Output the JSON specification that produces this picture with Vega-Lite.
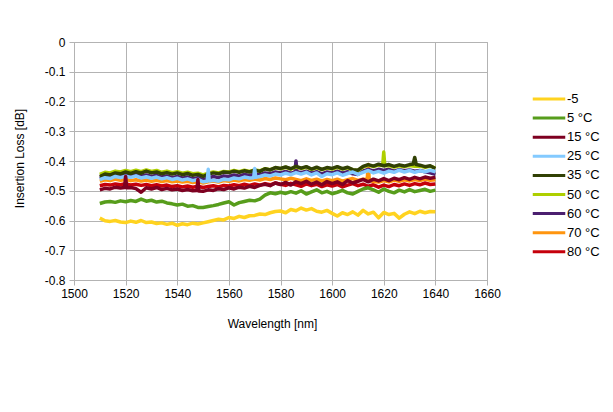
{
"$schema": "https://vega.github.io/schema/vega-lite/v6.json",
"width": 413, "height": 238,
"autosize": {"type": "none"},
"padding": {"left": 74, "top": 42, "right": 126, "bottom": 132},
"background": "white",
"config": {"font": "Liberation Sans", "view": {"stroke": "#b3b3b3"}},
"data": {"values": [
{"w":1510,"t":"80 °C","v":-0.483},{"w":1512,"t":"80 °C","v":-0.479},{"w":1514,"t":"80 °C","v":-0.481},{"w":1516,"t":"80 °C","v":-0.477},{"w":1518,"t":"80 °C","v":-0.480},{"w":1520,"t":"80 °C","v":-0.476},{"w":1522,"t":"80 °C","v":-0.481},{"w":1524,"t":"80 °C","v":-0.478},{"w":1526,"t":"80 °C","v":-0.482},{"w":1528,"t":"80 °C","v":-0.479},{"w":1530,"t":"80 °C","v":-0.483},{"w":1532,"t":"80 °C","v":-0.480},{"w":1534,"t":"80 °C","v":-0.484},{"w":1536,"t":"80 °C","v":-0.481},{"w":1538,"t":"80 °C","v":-0.486},{"w":1540,"t":"80 °C","v":-0.483},{"w":1542,"t":"80 °C","v":-0.487},{"w":1544,"t":"80 °C","v":-0.484},{"w":1546,"t":"80 °C","v":-0.488},{"w":1548,"t":"80 °C","v":-0.485},{"w":1550,"t":"80 °C","v":-0.489},{"w":1552,"t":"80 °C","v":-0.486},{"w":1554,"t":"80 °C","v":-0.483},{"w":1556,"t":"80 °C","v":-0.487},{"w":1558,"t":"80 °C","v":-0.482},{"w":1560,"t":"80 °C","v":-0.484},{"w":1562,"t":"80 °C","v":-0.480},{"w":1564,"t":"80 °C","v":-0.483},{"w":1566,"t":"80 °C","v":-0.478},{"w":1568,"t":"80 °C","v":-0.482},{"w":1570,"t":"80 °C","v":-0.477},{"w":1572,"t":"80 °C","v":-0.481},{"w":1574,"t":"80 °C","v":-0.476},{"w":1576,"t":"80 °C","v":-0.480},{"w":1578,"t":"80 °C","v":-0.474},{"w":1580,"t":"80 °C","v":-0.478},{"w":1582,"t":"80 °C","v":-0.482},{"w":1584,"t":"80 °C","v":-0.475},{"w":1586,"t":"80 °C","v":-0.480},{"w":1588,"t":"80 °C","v":-0.485},{"w":1590,"t":"80 °C","v":-0.477},{"w":1592,"t":"80 °C","v":-0.483},{"w":1594,"t":"80 °C","v":-0.478},{"w":1596,"t":"80 °C","v":-0.486},{"w":1598,"t":"80 °C","v":-0.480},{"w":1600,"t":"80 °C","v":-0.484},{"w":1602,"t":"80 °C","v":-0.479},{"w":1604,"t":"80 °C","v":-0.487},{"w":1606,"t":"80 °C","v":-0.481},{"w":1608,"t":"80 °C","v":-0.476},{"w":1610,"t":"80 °C","v":-0.483},{"w":1612,"t":"80 °C","v":-0.478},{"w":1614,"t":"80 °C","v":-0.485},{"w":1616,"t":"80 °C","v":-0.480},{"w":1618,"t":"80 °C","v":-0.488},{"w":1620,"t":"80 °C","v":-0.481},{"w":1622,"t":"80 °C","v":-0.486},{"w":1624,"t":"80 °C","v":-0.479},{"w":1626,"t":"80 °C","v":-0.483},{"w":1628,"t":"80 °C","v":-0.477},{"w":1630,"t":"80 °C","v":-0.482},{"w":1632,"t":"80 °C","v":-0.476},{"w":1634,"t":"80 °C","v":-0.480},{"w":1636,"t":"80 °C","v":-0.474},{"w":1638,"t":"80 °C","v":-0.479},{"w":1640,"t":"80 °C","v":-0.477},
{"w":1510,"t":"70 °C","v":-0.468},{"w":1512,"t":"70 °C","v":-0.463},{"w":1514,"t":"70 °C","v":-0.466},{"w":1516,"t":"70 °C","v":-0.461},{"w":1518,"t":"70 °C","v":-0.465},{"w":1520,"t":"70 °C","v":-0.462},{"w":1522,"t":"70 °C","v":-0.466},{"w":1524,"t":"70 °C","v":-0.463},{"w":1526,"t":"70 °C","v":-0.467},{"w":1528,"t":"70 °C","v":-0.464},{"w":1530,"t":"70 °C","v":-0.468},{"w":1532,"t":"70 °C","v":-0.465},{"w":1534,"t":"70 °C","v":-0.469},{"w":1536,"t":"70 °C","v":-0.466},{"w":1538,"t":"70 °C","v":-0.470},{"w":1540,"t":"70 °C","v":-0.467},{"w":1542,"t":"70 °C","v":-0.471},{"w":1544,"t":"70 °C","v":-0.468},{"w":1546,"t":"70 °C","v":-0.472},{"w":1548,"t":"70 °C","v":-0.469},{"w":1550,"t":"70 °C","v":-0.474},{"w":1552,"t":"70 °C","v":-0.470},{"w":1554,"t":"70 °C","v":-0.467},{"w":1556,"t":"70 °C","v":-0.471},{"w":1558,"t":"70 °C","v":-0.466},{"w":1560,"t":"70 °C","v":-0.468},{"w":1562,"t":"70 °C","v":-0.464},{"w":1564,"t":"70 °C","v":-0.467},{"w":1566,"t":"70 °C","v":-0.462},{"w":1568,"t":"70 °C","v":-0.465},{"w":1570,"t":"70 °C","v":-0.461},{"w":1572,"t":"70 °C","v":-0.464},{"w":1574,"t":"70 °C","v":-0.459},{"w":1576,"t":"70 °C","v":-0.462},{"w":1578,"t":"70 °C","v":-0.457},{"w":1580,"t":"70 °C","v":-0.460},{"w":1582,"t":"70 °C","v":-0.463},{"w":1584,"t":"70 °C","v":-0.458},{"w":1586,"t":"70 °C","v":-0.462},{"w":1588,"t":"70 °C","v":-0.466},{"w":1590,"t":"70 °C","v":-0.460},{"w":1592,"t":"70 °C","v":-0.465},{"w":1594,"t":"70 °C","v":-0.461},{"w":1596,"t":"70 °C","v":-0.467},{"w":1598,"t":"70 °C","v":-0.462},{"w":1600,"t":"70 °C","v":-0.466},{"w":1602,"t":"70 °C","v":-0.461},{"w":1604,"t":"70 °C","v":-0.468},{"w":1606,"t":"70 °C","v":-0.463},{"w":1608,"t":"70 °C","v":-0.459},{"w":1610,"t":"70 °C","v":-0.465},{"w":1612,"t":"70 °C","v":-0.461},{"w":1613.6,"t":"70 °C","v":-0.462},{"w":1614,"t":"70 °C","v":-0.412},{"w":1614.4,"t":"70 °C","v":-0.466},{"w":1616,"t":"70 °C","v":-0.469},{"w":1618,"t":"70 °C","v":-0.471},{"w":1620,"t":"70 °C","v":-0.466},{"w":1622,"t":"70 °C","v":-0.470},{"w":1624,"t":"70 °C","v":-0.464},{"w":1626,"t":"70 °C","v":-0.468},{"w":1628,"t":"70 °C","v":-0.463},{"w":1630,"t":"70 °C","v":-0.467},{"w":1632,"t":"70 °C","v":-0.462},{"w":1634,"t":"70 °C","v":-0.466},{"w":1636,"t":"70 °C","v":-0.461},{"w":1638,"t":"70 °C","v":-0.465},{"w":1640,"t":"70 °C","v":-0.463},
{"w":1510,"t":"60 °C","v":-0.458},{"w":1512,"t":"60 °C","v":-0.451},{"w":1514,"t":"60 °C","v":-0.454},{"w":1516,"t":"60 °C","v":-0.448},{"w":1518,"t":"60 °C","v":-0.451},{"w":1520,"t":"60 °C","v":-0.446},{"w":1522,"t":"60 °C","v":-0.450},{"w":1524,"t":"60 °C","v":-0.445},{"w":1526,"t":"60 °C","v":-0.451},{"w":1528,"t":"60 °C","v":-0.447},{"w":1530,"t":"60 °C","v":-0.452},{"w":1532,"t":"60 °C","v":-0.448},{"w":1534,"t":"60 °C","v":-0.454},{"w":1536,"t":"60 °C","v":-0.450},{"w":1538,"t":"60 °C","v":-0.456},{"w":1540,"t":"60 °C","v":-0.452},{"w":1542,"t":"60 °C","v":-0.458},{"w":1544,"t":"60 °C","v":-0.454},{"w":1546,"t":"60 °C","v":-0.460},{"w":1548,"t":"60 °C","v":-0.456},{"w":1550,"t":"60 °C","v":-0.463},{"w":1552,"t":"60 °C","v":-0.457},{"w":1554,"t":"60 °C","v":-0.452},{"w":1556,"t":"60 °C","v":-0.456},{"w":1558,"t":"60 °C","v":-0.450},{"w":1560,"t":"60 °C","v":-0.452},{"w":1562,"t":"60 °C","v":-0.447},{"w":1564,"t":"60 °C","v":-0.451},{"w":1566,"t":"60 °C","v":-0.445},{"w":1568,"t":"60 °C","v":-0.449},{"w":1570,"t":"60 °C","v":-0.443},{"w":1572,"t":"60 °C","v":-0.447},{"w":1574,"t":"60 °C","v":-0.440},{"w":1576,"t":"60 °C","v":-0.443},{"w":1578,"t":"60 °C","v":-0.437},{"w":1580,"t":"60 °C","v":-0.440},{"w":1582,"t":"60 °C","v":-0.435},{"w":1584,"t":"60 °C","v":-0.441},{"w":1585.6,"t":"60 °C","v":-0.438},{"w":1586,"t":"60 °C","v":-0.400},{"w":1586.4,"t":"60 °C","v":-0.437},{"w":1588,"t":"60 °C","v":-0.439},{"w":1590,"t":"60 °C","v":-0.434},{"w":1592,"t":"60 °C","v":-0.441},{"w":1594,"t":"60 °C","v":-0.436},{"w":1596,"t":"60 °C","v":-0.443},{"w":1598,"t":"60 °C","v":-0.437},{"w":1600,"t":"60 °C","v":-0.440},{"w":1602,"t":"60 °C","v":-0.434},{"w":1604,"t":"60 °C","v":-0.441},{"w":1606,"t":"60 °C","v":-0.436},{"w":1608,"t":"60 °C","v":-0.443},{"w":1610,"t":"60 °C","v":-0.445},{"w":1612,"t":"60 °C","v":-0.433},{"w":1614,"t":"60 °C","v":-0.428},{"w":1616,"t":"60 °C","v":-0.433},{"w":1618,"t":"60 °C","v":-0.428},{"w":1620,"t":"60 °C","v":-0.432},{"w":1622,"t":"60 °C","v":-0.428},{"w":1624,"t":"60 °C","v":-0.434},{"w":1626,"t":"60 °C","v":-0.429},{"w":1628,"t":"60 °C","v":-0.433},{"w":1630,"t":"60 °C","v":-0.430},{"w":1632,"t":"60 °C","v":-0.434},{"w":1634,"t":"60 °C","v":-0.432},{"w":1636,"t":"60 °C","v":-0.436},{"w":1638,"t":"60 °C","v":-0.440},{"w":1640,"t":"60 °C","v":-0.445},
{"w":1510,"t":"50 °C","v":-0.445},{"w":1512,"t":"50 °C","v":-0.438},{"w":1514,"t":"50 °C","v":-0.440},{"w":1516,"t":"50 °C","v":-0.434},{"w":1518,"t":"50 °C","v":-0.437},{"w":1520,"t":"50 °C","v":-0.432},{"w":1522,"t":"50 °C","v":-0.436},{"w":1524,"t":"50 °C","v":-0.431},{"w":1526,"t":"50 °C","v":-0.436},{"w":1528,"t":"50 °C","v":-0.430},{"w":1530,"t":"50 °C","v":-0.435},{"w":1532,"t":"50 °C","v":-0.432},{"w":1534,"t":"50 °C","v":-0.438},{"w":1536,"t":"50 °C","v":-0.434},{"w":1538,"t":"50 °C","v":-0.439},{"w":1540,"t":"50 °C","v":-0.436},{"w":1542,"t":"50 °C","v":-0.441},{"w":1544,"t":"50 °C","v":-0.438},{"w":1546,"t":"50 °C","v":-0.443},{"w":1548,"t":"50 °C","v":-0.441},{"w":1550,"t":"50 °C","v":-0.447},{"w":1552,"t":"50 °C","v":-0.441},{"w":1554,"t":"50 °C","v":-0.437},{"w":1556,"t":"50 °C","v":-0.440},{"w":1558,"t":"50 °C","v":-0.435},{"w":1560,"t":"50 °C","v":-0.437},{"w":1562,"t":"50 °C","v":-0.432},{"w":1564,"t":"50 °C","v":-0.436},{"w":1566,"t":"50 °C","v":-0.431},{"w":1568,"t":"50 °C","v":-0.435},{"w":1570,"t":"50 °C","v":-0.430},{"w":1572,"t":"50 °C","v":-0.433},{"w":1574,"t":"50 °C","v":-0.426},{"w":1576,"t":"50 °C","v":-0.429},{"w":1578,"t":"50 °C","v":-0.423},{"w":1580,"t":"50 °C","v":-0.426},{"w":1582,"t":"50 °C","v":-0.421},{"w":1584,"t":"50 °C","v":-0.427},{"w":1586,"t":"50 °C","v":-0.420},{"w":1588,"t":"50 °C","v":-0.425},{"w":1590,"t":"50 °C","v":-0.421},{"w":1592,"t":"50 °C","v":-0.428},{"w":1594,"t":"50 °C","v":-0.423},{"w":1596,"t":"50 °C","v":-0.429},{"w":1598,"t":"50 °C","v":-0.424},{"w":1600,"t":"50 °C","v":-0.427},{"w":1602,"t":"50 °C","v":-0.421},{"w":1604,"t":"50 °C","v":-0.427},{"w":1606,"t":"50 °C","v":-0.423},{"w":1608,"t":"50 °C","v":-0.430},{"w":1610,"t":"50 °C","v":-0.432},{"w":1612,"t":"50 °C","v":-0.420},{"w":1614,"t":"50 °C","v":-0.414},{"w":1616,"t":"50 °C","v":-0.419},{"w":1618,"t":"50 °C","v":-0.414},{"w":1619.6,"t":"50 °C","v":-0.415},{"w":1620,"t":"50 °C","v":-0.370},{"w":1620.4,"t":"50 °C","v":-0.416},{"w":1622,"t":"50 °C","v":-0.415},{"w":1624,"t":"50 °C","v":-0.420},{"w":1626,"t":"50 °C","v":-0.416},{"w":1628,"t":"50 °C","v":-0.419},{"w":1630,"t":"50 °C","v":-0.415},{"w":1632,"t":"50 °C","v":-0.418},{"w":1634,"t":"50 °C","v":-0.417},{"w":1636,"t":"50 °C","v":-0.421},{"w":1638,"t":"50 °C","v":-0.418},{"w":1640,"t":"50 °C","v":-0.423},
{"w":1510,"t":"35 °C","v":-0.452},{"w":1512,"t":"35 °C","v":-0.444},{"w":1514,"t":"35 °C","v":-0.447},{"w":1516,"t":"35 °C","v":-0.440},{"w":1518,"t":"35 °C","v":-0.443},{"w":1520,"t":"35 °C","v":-0.437},{"w":1522,"t":"35 °C","v":-0.442},{"w":1524,"t":"35 °C","v":-0.436},{"w":1526,"t":"35 °C","v":-0.441},{"w":1528,"t":"35 °C","v":-0.434},{"w":1530,"t":"35 °C","v":-0.440},{"w":1532,"t":"35 °C","v":-0.437},{"w":1534,"t":"35 °C","v":-0.443},{"w":1536,"t":"35 °C","v":-0.439},{"w":1538,"t":"35 °C","v":-0.444},{"w":1540,"t":"35 °C","v":-0.440},{"w":1542,"t":"35 °C","v":-0.446},{"w":1544,"t":"35 °C","v":-0.442},{"w":1546,"t":"35 °C","v":-0.448},{"w":1548,"t":"35 °C","v":-0.445},{"w":1550,"t":"35 °C","v":-0.452},{"w":1552,"t":"35 °C","v":-0.444},{"w":1554,"t":"35 °C","v":-0.440},{"w":1556,"t":"35 °C","v":-0.443},{"w":1558,"t":"35 °C","v":-0.437},{"w":1560,"t":"35 °C","v":-0.439},{"w":1562,"t":"35 °C","v":-0.434},{"w":1564,"t":"35 °C","v":-0.438},{"w":1566,"t":"35 °C","v":-0.433},{"w":1568,"t":"35 °C","v":-0.437},{"w":1570,"t":"35 °C","v":-0.431},{"w":1572,"t":"35 °C","v":-0.435},{"w":1574,"t":"35 °C","v":-0.426},{"w":1576,"t":"35 °C","v":-0.430},{"w":1578,"t":"35 °C","v":-0.422},{"w":1580,"t":"35 °C","v":-0.425},{"w":1582,"t":"35 °C","v":-0.420},{"w":1584,"t":"35 °C","v":-0.426},{"w":1586,"t":"35 °C","v":-0.418},{"w":1588,"t":"35 °C","v":-0.424},{"w":1590,"t":"35 °C","v":-0.419},{"w":1592,"t":"35 °C","v":-0.427},{"w":1594,"t":"35 °C","v":-0.421},{"w":1596,"t":"35 °C","v":-0.428},{"w":1598,"t":"35 °C","v":-0.422},{"w":1600,"t":"35 °C","v":-0.425},{"w":1602,"t":"35 °C","v":-0.419},{"w":1604,"t":"35 °C","v":-0.426},{"w":1606,"t":"35 °C","v":-0.421},{"w":1608,"t":"35 °C","v":-0.429},{"w":1610,"t":"35 °C","v":-0.431},{"w":1612,"t":"35 °C","v":-0.418},{"w":1614,"t":"35 °C","v":-0.412},{"w":1616,"t":"35 °C","v":-0.417},{"w":1618,"t":"35 °C","v":-0.411},{"w":1620,"t":"35 °C","v":-0.416},{"w":1622,"t":"35 °C","v":-0.412},{"w":1624,"t":"35 °C","v":-0.418},{"w":1626,"t":"35 °C","v":-0.413},{"w":1628,"t":"35 °C","v":-0.417},{"w":1630,"t":"35 °C","v":-0.412},{"w":1631.4,"t":"35 °C","v":-0.410},{"w":1632,"t":"35 °C","v":-0.388},{"w":1632.6,"t":"35 °C","v":-0.412},{"w":1634,"t":"35 °C","v":-0.414},{"w":1636,"t":"35 °C","v":-0.419},{"w":1638,"t":"35 °C","v":-0.416},{"w":1640,"t":"35 °C","v":-0.425},
{"w":1510,"t":"25 °C","v":-0.463},{"w":1512,"t":"25 °C","v":-0.456},{"w":1514,"t":"25 °C","v":-0.459},{"w":1516,"t":"25 °C","v":-0.452},{"w":1518,"t":"25 °C","v":-0.456},{"w":1520,"t":"25 °C","v":-0.451},{"w":1522,"t":"25 °C","v":-0.455},{"w":1524,"t":"25 °C","v":-0.450},{"w":1526,"t":"25 °C","v":-0.457},{"w":1528,"t":"25 °C","v":-0.453},{"w":1530,"t":"25 °C","v":-0.458},{"w":1532,"t":"25 °C","v":-0.454},{"w":1534,"t":"25 °C","v":-0.460},{"w":1536,"t":"25 °C","v":-0.456},{"w":1538,"t":"25 °C","v":-0.462},{"w":1540,"t":"25 °C","v":-0.458},{"w":1542,"t":"25 °C","v":-0.464},{"w":1544,"t":"25 °C","v":-0.460},{"w":1546,"t":"25 °C","v":-0.466},{"w":1548,"t":"25 °C","v":-0.462},{"w":1550,"t":"25 °C","v":-0.470},{"w":1551.6,"t":"25 °C","v":-0.468},{"w":1552,"t":"25 °C","v":-0.428},{"w":1552.4,"t":"25 °C","v":-0.467},{"w":1554,"t":"25 °C","v":-0.465},{"w":1556,"t":"25 °C","v":-0.468},{"w":1558,"t":"25 °C","v":-0.461},{"w":1560,"t":"25 °C","v":-0.463},{"w":1562,"t":"25 °C","v":-0.457},{"w":1564,"t":"25 °C","v":-0.460},{"w":1566,"t":"25 °C","v":-0.454},{"w":1568,"t":"25 °C","v":-0.457},{"w":1569.6,"t":"25 °C","v":-0.456},{"w":1570,"t":"25 °C","v":-0.425},{"w":1570.4,"t":"25 °C","v":-0.455},{"w":1572,"t":"25 °C","v":-0.452},{"w":1574,"t":"25 °C","v":-0.447},{"w":1576,"t":"25 °C","v":-0.450},{"w":1578,"t":"25 °C","v":-0.444},{"w":1580,"t":"25 °C","v":-0.447},{"w":1582,"t":"25 °C","v":-0.441},{"w":1584,"t":"25 °C","v":-0.446},{"w":1586,"t":"25 °C","v":-0.439},{"w":1588,"t":"25 °C","v":-0.444},{"w":1590,"t":"25 °C","v":-0.438},{"w":1592,"t":"25 °C","v":-0.447},{"w":1594,"t":"25 °C","v":-0.440},{"w":1596,"t":"25 °C","v":-0.452},{"w":1598,"t":"25 °C","v":-0.443},{"w":1600,"t":"25 °C","v":-0.446},{"w":1602,"t":"25 °C","v":-0.440},{"w":1604,"t":"25 °C","v":-0.448},{"w":1606,"t":"25 °C","v":-0.442},{"w":1608,"t":"25 °C","v":-0.437},{"w":1610,"t":"25 °C","v":-0.445},{"w":1612,"t":"25 °C","v":-0.438},{"w":1614,"t":"25 °C","v":-0.432},{"w":1616,"t":"25 °C","v":-0.440},{"w":1618,"t":"25 °C","v":-0.435},{"w":1620,"t":"25 °C","v":-0.441},{"w":1622,"t":"25 °C","v":-0.434},{"w":1624,"t":"25 °C","v":-0.438},{"w":1626,"t":"25 °C","v":-0.431},{"w":1628,"t":"25 °C","v":-0.437},{"w":1630,"t":"25 °C","v":-0.432},{"w":1632,"t":"25 °C","v":-0.438},{"w":1634,"t":"25 °C","v":-0.433},{"w":1636,"t":"25 °C","v":-0.436},{"w":1638,"t":"25 °C","v":-0.431},{"w":1640,"t":"25 °C","v":-0.436},
{"w":1510,"t":"15 °C","v":-0.497},{"w":1512,"t":"15 °C","v":-0.492},{"w":1514,"t":"15 °C","v":-0.494},{"w":1516,"t":"15 °C","v":-0.488},{"w":1518,"t":"15 °C","v":-0.491},{"w":1519.6,"t":"15 °C","v":-0.489},{"w":1520,"t":"15 °C","v":-0.452},{"w":1520.4,"t":"15 °C","v":-0.490},{"w":1522,"t":"15 °C","v":-0.489},{"w":1524,"t":"15 °C","v":-0.493},{"w":1526,"t":"15 °C","v":-0.505},{"w":1528,"t":"15 °C","v":-0.490},{"w":1530,"t":"15 °C","v":-0.494},{"w":1532,"t":"15 °C","v":-0.489},{"w":1534,"t":"15 °C","v":-0.496},{"w":1536,"t":"15 °C","v":-0.492},{"w":1538,"t":"15 °C","v":-0.497},{"w":1540,"t":"15 °C","v":-0.494},{"w":1542,"t":"15 °C","v":-0.499},{"w":1544,"t":"15 °C","v":-0.496},{"w":1546,"t":"15 °C","v":-0.500},{"w":1547.6,"t":"15 °C","v":-0.499},{"w":1548,"t":"15 °C","v":-0.462},{"w":1548.4,"t":"15 °C","v":-0.501},{"w":1550,"t":"15 °C","v":-0.502},{"w":1552,"t":"15 °C","v":-0.497},{"w":1554,"t":"15 °C","v":-0.499},{"w":1556,"t":"15 °C","v":-0.493},{"w":1558,"t":"15 °C","v":-0.496},{"w":1560,"t":"15 °C","v":-0.490},{"w":1562,"t":"15 °C","v":-0.494},{"w":1564,"t":"15 °C","v":-0.488},{"w":1566,"t":"15 °C","v":-0.491},{"w":1568,"t":"15 °C","v":-0.485},{"w":1570,"t":"15 °C","v":-0.489},{"w":1572,"t":"15 °C","v":-0.482},{"w":1574,"t":"15 °C","v":-0.478},{"w":1576,"t":"15 °C","v":-0.483},{"w":1578,"t":"15 °C","v":-0.474},{"w":1580,"t":"15 °C","v":-0.479},{"w":1582,"t":"15 °C","v":-0.472},{"w":1584,"t":"15 °C","v":-0.481},{"w":1586,"t":"15 °C","v":-0.470},{"w":1588,"t":"15 °C","v":-0.476},{"w":1590,"t":"15 °C","v":-0.468},{"w":1592,"t":"15 °C","v":-0.478},{"w":1594,"t":"15 °C","v":-0.471},{"w":1596,"t":"15 °C","v":-0.480},{"w":1598,"t":"15 °C","v":-0.469},{"w":1600,"t":"15 °C","v":-0.476},{"w":1602,"t":"15 °C","v":-0.470},{"w":1604,"t":"15 °C","v":-0.479},{"w":1606,"t":"15 °C","v":-0.466},{"w":1608,"t":"15 °C","v":-0.474},{"w":1610,"t":"15 °C","v":-0.468},{"w":1612,"t":"15 °C","v":-0.462},{"w":1614,"t":"15 °C","v":-0.470},{"w":1616,"t":"15 °C","v":-0.461},{"w":1618,"t":"15 °C","v":-0.467},{"w":1620,"t":"15 °C","v":-0.459},{"w":1622,"t":"15 °C","v":-0.466},{"w":1624,"t":"15 °C","v":-0.458},{"w":1626,"t":"15 °C","v":-0.463},{"w":1628,"t":"15 °C","v":-0.456},{"w":1630,"t":"15 °C","v":-0.462},{"w":1632,"t":"15 °C","v":-0.455},{"w":1634,"t":"15 °C","v":-0.460},{"w":1636,"t":"15 °C","v":-0.454},{"w":1638,"t":"15 °C","v":-0.458},{"w":1640,"t":"15 °C","v":-0.455},
{"w":1510,"t":"5 °C","v":-0.543},{"w":1512,"t":"5 °C","v":-0.538},{"w":1514,"t":"5 °C","v":-0.536},{"w":1516,"t":"5 °C","v":-0.539},{"w":1518,"t":"5 °C","v":-0.534},{"w":1520,"t":"5 °C","v":-0.537},{"w":1522,"t":"5 °C","v":-0.533},{"w":1524,"t":"5 °C","v":-0.536},{"w":1526,"t":"5 °C","v":-0.528},{"w":1528,"t":"5 °C","v":-0.535},{"w":1530,"t":"5 °C","v":-0.532},{"w":1532,"t":"5 °C","v":-0.538},{"w":1534,"t":"5 °C","v":-0.535},{"w":1536,"t":"5 °C","v":-0.541},{"w":1538,"t":"5 °C","v":-0.544},{"w":1540,"t":"5 °C","v":-0.548},{"w":1542,"t":"5 °C","v":-0.545},{"w":1544,"t":"5 °C","v":-0.552},{"w":1546,"t":"5 °C","v":-0.550},{"w":1548,"t":"5 °C","v":-0.556},{"w":1550,"t":"5 °C","v":-0.556},{"w":1552,"t":"5 °C","v":-0.553},{"w":1554,"t":"5 °C","v":-0.550},{"w":1556,"t":"5 °C","v":-0.546},{"w":1558,"t":"5 °C","v":-0.541},{"w":1560,"t":"5 °C","v":-0.537},{"w":1562,"t":"5 °C","v":-0.548},{"w":1564,"t":"5 °C","v":-0.540},{"w":1566,"t":"5 °C","v":-0.536},{"w":1568,"t":"5 °C","v":-0.532},{"w":1570,"t":"5 °C","v":-0.534},{"w":1572,"t":"5 °C","v":-0.528},{"w":1574,"t":"5 °C","v":-0.515},{"w":1576,"t":"5 °C","v":-0.507},{"w":1578,"t":"5 °C","v":-0.510},{"w":1580,"t":"5 °C","v":-0.505},{"w":1582,"t":"5 °C","v":-0.509},{"w":1584,"t":"5 °C","v":-0.503},{"w":1586,"t":"5 °C","v":-0.508},{"w":1588,"t":"5 °C","v":-0.500},{"w":1590,"t":"5 °C","v":-0.511},{"w":1592,"t":"5 °C","v":-0.504},{"w":1594,"t":"5 °C","v":-0.497},{"w":1596,"t":"5 °C","v":-0.507},{"w":1598,"t":"5 °C","v":-0.502},{"w":1600,"t":"5 °C","v":-0.510},{"w":1602,"t":"5 °C","v":-0.505},{"w":1604,"t":"5 °C","v":-0.499},{"w":1606,"t":"5 °C","v":-0.507},{"w":1608,"t":"5 °C","v":-0.511},{"w":1610,"t":"5 °C","v":-0.502},{"w":1612,"t":"5 °C","v":-0.494},{"w":1614,"t":"5 °C","v":-0.490},{"w":1616,"t":"5 °C","v":-0.497},{"w":1618,"t":"5 °C","v":-0.505},{"w":1620,"t":"5 °C","v":-0.494},{"w":1622,"t":"5 °C","v":-0.502},{"w":1624,"t":"5 °C","v":-0.507},{"w":1626,"t":"5 °C","v":-0.498},{"w":1628,"t":"5 °C","v":-0.504},{"w":1630,"t":"5 °C","v":-0.496},{"w":1632,"t":"5 °C","v":-0.503},{"w":1634,"t":"5 °C","v":-0.499},{"w":1636,"t":"5 °C","v":-0.495},{"w":1638,"t":"5 °C","v":-0.502},{"w":1640,"t":"5 °C","v":-0.498},
{"w":1510,"t":"-5","v":-0.592},{"w":1512,"t":"-5","v":-0.601},{"w":1514,"t":"-5","v":-0.603},{"w":1516,"t":"-5","v":-0.600},{"w":1518,"t":"-5","v":-0.605},{"w":1520,"t":"-5","v":-0.607},{"w":1522,"t":"-5","v":-0.602},{"w":1524,"t":"-5","v":-0.606},{"w":1526,"t":"-5","v":-0.600},{"w":1528,"t":"-5","v":-0.607},{"w":1530,"t":"-5","v":-0.605},{"w":1532,"t":"-5","v":-0.610},{"w":1534,"t":"-5","v":-0.608},{"w":1536,"t":"-5","v":-0.613},{"w":1538,"t":"-5","v":-0.609},{"w":1540,"t":"-5","v":-0.616},{"w":1542,"t":"-5","v":-0.611},{"w":1544,"t":"-5","v":-0.614},{"w":1546,"t":"-5","v":-0.609},{"w":1548,"t":"-5","v":-0.612},{"w":1550,"t":"-5","v":-0.608},{"w":1552,"t":"-5","v":-0.604},{"w":1554,"t":"-5","v":-0.600},{"w":1556,"t":"-5","v":-0.596},{"w":1558,"t":"-5","v":-0.598},{"w":1560,"t":"-5","v":-0.590},{"w":1562,"t":"-5","v":-0.593},{"w":1564,"t":"-5","v":-0.586},{"w":1566,"t":"-5","v":-0.590},{"w":1568,"t":"-5","v":-0.584},{"w":1570,"t":"-5","v":-0.583},{"w":1572,"t":"-5","v":-0.578},{"w":1574,"t":"-5","v":-0.580},{"w":1576,"t":"-5","v":-0.574},{"w":1578,"t":"-5","v":-0.570},{"w":1580,"t":"-5","v":-0.568},{"w":1582,"t":"-5","v":-0.574},{"w":1584,"t":"-5","v":-0.563},{"w":1586,"t":"-5","v":-0.567},{"w":1588,"t":"-5","v":-0.558},{"w":1590,"t":"-5","v":-0.565},{"w":1592,"t":"-5","v":-0.560},{"w":1594,"t":"-5","v":-0.569},{"w":1596,"t":"-5","v":-0.572},{"w":1598,"t":"-5","v":-0.566},{"w":1600,"t":"-5","v":-0.576},{"w":1602,"t":"-5","v":-0.585},{"w":1604,"t":"-5","v":-0.574},{"w":1606,"t":"-5","v":-0.580},{"w":1608,"t":"-5","v":-0.571},{"w":1610,"t":"-5","v":-0.582},{"w":1612,"t":"-5","v":-0.566},{"w":1614,"t":"-5","v":-0.578},{"w":1616,"t":"-5","v":-0.572},{"w":1618,"t":"-5","v":-0.591},{"w":1620,"t":"-5","v":-0.573},{"w":1622,"t":"-5","v":-0.580},{"w":1624,"t":"-5","v":-0.576},{"w":1626,"t":"-5","v":-0.592},{"w":1628,"t":"-5","v":-0.579},{"w":1630,"t":"-5","v":-0.571},{"w":1632,"t":"-5","v":-0.577},{"w":1634,"t":"-5","v":-0.569},{"w":1636,"t":"-5","v":-0.574},{"w":1638,"t":"-5","v":-0.570},{"w":1640,"t":"-5","v":-0.571}
]},
"mark": {"type": "line", "strokeWidth": 3.5, "strokeJoin": "round", "clip": true},
"encoding": {
  "x": {"field": "w", "type": "quantitative", "scale": {"domain": [1500, 1660], "nice": false, "zero": false},
    "axis": {"title": "Wavelength [nm]", "values": [1500,1520,1540,1560,1580,1600,1620,1640,1660], "format": "d",
      "titleFontSize": 12, "titleFontWeight": "normal", "titleColor": "#000", "titleX": 198, "titleY": 38,
      "labelFontSize": 12, "labelColor": "#000", "labelPadding": 3, "tickSize": 5, "tickColor": "#b3b3b3",
      "domainColor": "#b3b3b3", "gridColor": "#b3b3b3", "labelFlush": false}},
  "y": {"field": "v", "type": "quantitative", "scale": {"domain": [-0.8, 0], "nice": false, "zero": false},
    "axis": {"title": "Insertion Loss [dB]", "values": [0,-0.1,-0.2,-0.3,-0.4,-0.5,-0.6,-0.7,-0.8],
      "labelExpr": "datum.value == 0 ? '0' : '-' + format(abs(datum.value), '.1f')",
      "titleFontSize": 12, "titleFontWeight": "normal", "titleColor": "#000", "titleX": -55, "titleY": 116, "titleBaseline": "middle",
      "labelFontSize": 12, "labelColor": "#000", "labelPadding": 4, "tickSize": 5, "tickColor": "#b3b3b3",
      "domainColor": "#b3b3b3", "gridColor": "#b3b3b3", "labelFlush": false}},
  "color": {"field": "t", "type": "nominal",
    "scale": {"domain": ["-5","5 °C","15 °C","25 °C","35 °C","50 °C","60 °C","70 °C","80 °C"],
      "range": ["#ffd320","#579d1c","#7e0021","#83caff","#314004","#aecf00","#4b1f6f","#ff950e","#c5000b"]},
    "legend": {"title": null, "orient": "none", "legendX": 467, "legendY": 49, "symbolType": "M-2.5,0L2.5,0", "symbolSize": 169,
      "symbolStrokeWidth": 3, "labelFontSize": 13, "labelColor": "#000", "labelOffset": 10, "rowPadding": 4.1}}
}
}
